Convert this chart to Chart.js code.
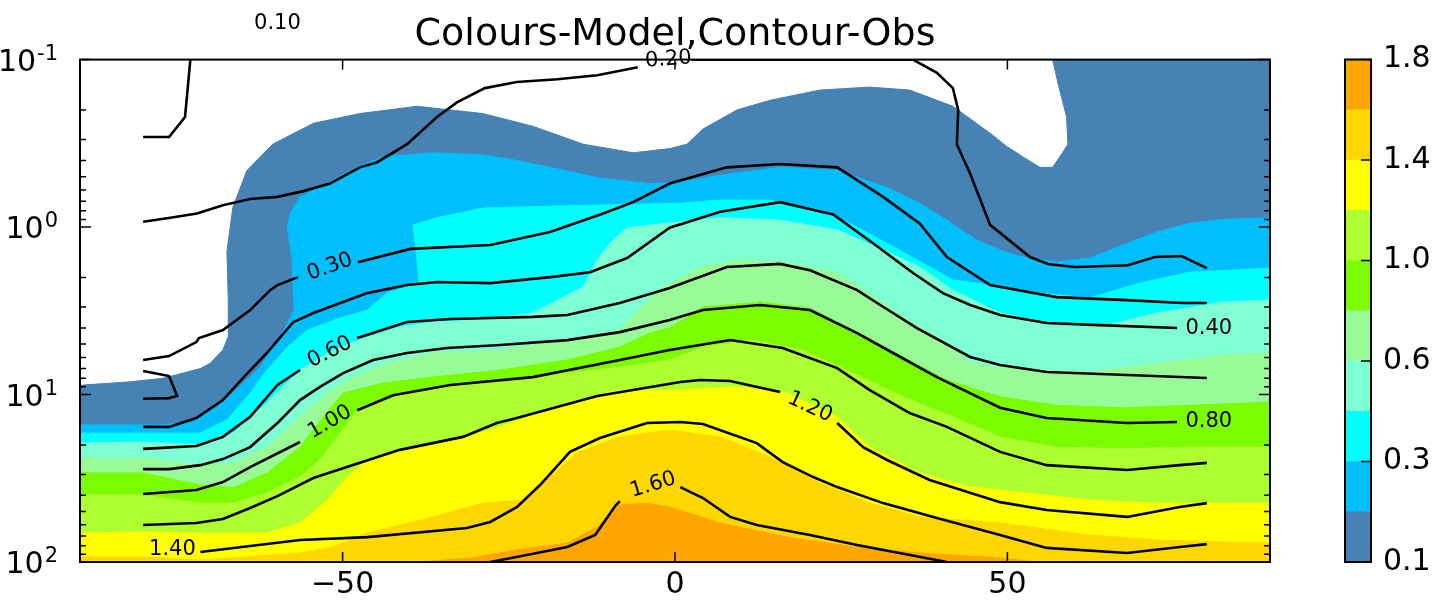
<!DOCTYPE html>
<html>
<head>
<meta charset="utf-8">
<script src="https://cdn.jsdelivr.net/npm/chart.js@4.4.0/dist/chart.umd.min.js"></script>
<style>
  html, body { margin: 0; padding: 0; background: #fff; }
  #wrap { position: relative; width: 1437px; height: 602px; }
  #main { position: absolute; left: 0; top: 0; }
  #cbar { position: absolute; left: 1300px; top: 0; }
</style>
</head>
<body>
<div id="wrap">
  <canvas id="main" width="1437" height="602"></canvas>
  <canvas id="cbar" width="137" height="602"></canvas>
</div>
<script>
// model field: for each level, the pressure (hPa) where the level is crossed, by latitude
var model010 = [[-89.5,8.8],[-82,8.4],[-77,8.0],[-71.4,7.0],[-69.9,6.5],[-68,5.4],[-67.2,4.5],[-67.2,2.7],[-67.4,1.4],[-66.5,0.76],[-64.4,0.46],[-60.5,0.32],[-54.4,0.24],[-47.4,0.21],[-38.8,0.19],[-28.9,0.21],[-21.4,0.25],[-13.8,0.32],[-6.3,0.36],[-0.8,0.34],[1.8,0.32],[4.2,0.26],[9.3,0.2],[14.3,0.175],[21.8,0.152],[29.3,0.146],[35.3,0.152],[41.8,0.19],[47.4,0.275],[49.9,0.33],[52.3,0.38],[54.9,0.44],[56.8,0.44],[58.3,0.36],[59.1,0.32],[58.9,0.22],[57.6,0.138],[56.8,0.1],[89.5,0.1]];
var model020 = [[-89.5,15.2],[-77.4,15.2],[-72.5,14.6],[-71.4,13.3],[-68.9,11.9],[-66.5,9.8],[-62.4,6.85],[-59.4,4.54],[-57.3,3.13],[-57.6,1.57],[-58.3,1.0],[-57.9,0.83],[-56.4,0.66],[-52.3,0.55],[-47.4,0.43],[-43.9,0.38],[-36.4,0.36],[-28.9,0.37],[-23.8,0.4],[-18.8,0.44],[-11.3,0.51],[-3.8,0.55],[0.8,0.54],[6.8,0.49],[15.8,0.44],[24.4,0.46],[31.9,0.58],[36.8,0.72],[40.9,0.91],[45.4,1.2],[48.9,1.37],[52.3,1.51],[57.4,1.62],[62.4,1.53],[67.4,1.28],[72.5,1.07],[77.4,0.95],[82.4,0.9],[89.5,0.88]];
var model030 = [[-89.5,17.0],[-80,17.0],[-71.4,17.0],[-67.4,14.2],[-63.9,9.8],[-61.4,7.14],[-58.3,5.2],[-55.3,4.12],[-50.4,3.49],[-46.3,3.13],[-43.3,2.48],[-38.5,2.16],[-38.8,1.57],[-39.4,0.97],[-35.8,0.88],[-28.9,0.77],[-18.8,0.75],[0.8,0.72],[6.8,0.69],[14.3,0.69],[21.8,0.79],[27.4,1.0],[31.9,1.25],[37.3,1.64],[41.8,2.07],[47.4,2.22],[54.9,2.48],[62.4,2.65],[69.9,2.16],[77.4,1.86],[89.5,1.76]];
var model040 = [[-89.5,19.5],[-80,19.2],[-71.4,20.0],[-66.5,17.0],[-61.4,11.2],[-56.4,7.14],[-51.4,5.42],[-46.3,4.54],[-41.4,3.95],[-36.4,3.69],[-28.9,3.59],[-21.4,3.26],[-13.8,2.28],[-11.7,1.57],[-9.8,1.25],[-7.2,1.01],[0.8,0.93],[6.8,0.88],[15.8,0.91],[24.4,1.04],[30.4,1.32],[36.8,1.73],[41.8,2.38],[48.9,3.26],[55.9,3.74],[65,3.85],[72.5,3.26],[82.4,2.8],[89.5,2.73]];
var model060 = [[-89.5,23.9],[-80,23.9],[-71.4,26.4],[-66.5,25.6],[-61.4,20.6],[-56.4,13.6],[-52.3,9.8],[-48.4,7.87],[-43.3,6.49],[-36.4,5.65],[-26.3,5.42],[-16.2,4.73],[-11.3,4.5],[-8.3,4.1],[-5,3.0],[-2,2.3],[0.8,2.0],[4.2,1.73],[9.3,1.57],[16.8,1.62],[24.4,1.88],[29.3,2.48],[34.3,3.44],[39.4,4.54],[44.4,6.4],[48.9,6.95],[62.4,7.34],[72.5,6.49],[82.4,5.81],[89.5,5.65]];
var model080 = [[-89.5,29.4],[-80,29.4],[-71.4,34.7],[-66.5,36.1],[-61.4,29.4],[-56.4,20.6],[-52.9,13.6],[-49.9,9.8],[-43.9,8.54],[-36.4,7.87],[-26.3,7.14],[-16.2,6.22],[-8.3,5.2],[-3.8,4.3],[-0.8,4.0],[4.2,3.0],[12.8,2.8],[20.3,3.05],[27.4,4.24],[34.3,5.97],[40.9,8.19],[48.9,10.3],[57.4,11.6],[67.4,12.0],[77.4,11.6],[89.5,11.1]];
var model100 = [[-89.5,39.8],[-80,39.8],[-71.4,44.5],[-66.5,44.5],[-61.4,38.7],[-56.4,31.1],[-53.4,24.6],[-50.4,17.0],[-47.4,11.9],[-41.4,9.8],[-31.3,8.54],[-21.4,7.87],[-8.3,6.85],[-0.8,6.22],[4.2,5.2],[11.7,4.73],[19.2,5.42],[26.8,7.45],[34.3,10.3],[41.8,13.6],[48.9,17.9],[57.4,20.6],[67.4,21.1],[77.4,20.6],[89.5,20.6]];
var model120 = [[-89.5,67.1],[-80,66.2],[-71.4,67.1],[-61.4,67.1],[-56.4,58.5],[-52.3,42.6],[-49.3,31.1],[-46.3,24.6],[-41.4,21.4],[-31.3,17.9],[-26.3,15.6],[-16.2,11.2],[-8.3,9.4],[-0.8,9.4],[9.3,9.0],[16.8,9.8],[24.4,13.6],[29.3,20.6],[36.8,29.4],[44.4,35.7],[48.9,37.2],[62.4,42.6],[72.5,44.5],[82.4,44.5],[89.5,44.5]];
var model140 = [[-89.5,93.3],[-80,93.3],[-71.4,97.3],[-56.4,88.3],[-51.4,81.3],[-46.3,67.1],[-36.4,53.8],[-28.9,44.5],[-22.3,42.6],[-18.8,31.1],[-14.7,22.3],[-8.3,17.9],[-0.8,16.3],[6.8,17.9],[14.3,23.6],[21.8,33.7],[29.3,44.5],[36.8,53.8],[48.9,58.5],[62.4,69.0],[72.5,73.9],[82.4,76.0],[89.5,77.1]];
var model160 = [[-38.3,100],[-30.8,94.7],[-23.8,84.7],[-16.2,77.1],[-11.7,61.8],[-8.3,45.7],[-4.5,44.5],[-0.8,47.0],[6.8,58.5],[16.8,71.0],[26.8,81.3],[36.8,88.3],[48.9,94.7],[54.9,100]];

var modelColors = ['#4682b4', '#00bfff', '#00ffff', '#7fffd4', '#98fb98', '#7cfc00', '#adff2f', '#ffff00', '#ffd700', '#ffa500'];

// observed contours (null = break where a label sits)
var obs010 = [[-80,0.29],[-76.1,0.29],[-73.7,0.22],[-72.9,0.1],[-72.6,0.07]];
var obs020 = [[-80,0.93],[-75.9,0.88],[-71.9,0.83],[-68,0.74],[-63.9,0.68],[-59.8,0.66],[-55.9,0.61],[-51.9,0.55],[-47.4,0.44],[-44.8,0.41],[-40.3,0.32],[-35.8,0.22],[-32.8,0.18],[-28.6,0.148],[-23.8,0.136],[-17.7,0.131],[-11.7,0.124],[-5.6,0.111],null,[2.6,0.1],[35.8,0.1],[39.4,0.12],[41.8,0.148],[42.6,0.2],[42.4,0.32],[44.4,0.48],[47.4,0.97],[53.4,1.51],[56.1,1.66],[60.2,1.73],[68.1,1.69],[72.2,1.51],[76.2,1.49],[80,1.76]];
var obs030 = [[-80,6.22],[-76.1,5.89],[-72,4.86],[-71.6,4.6],[-68,4.12],[-63.9,3.13],[-60.9,2.38],[-59.8,2.22],[-56.7,1.99],null,[-47.7,1.62],[-39.8,1.35],[-27.8,1.28],[-18.8,1.07],[-10.8,0.83],[-6.3,0.71],[-0.8,0.55],[7.8,0.44],[15.8,0.42],[24.4,0.44],[31.3,0.66],[36.8,0.95],[40.9,1.51],[47.4,2.22],[57.4,2.62],[68,2.73],[76.4,2.84],[80,2.84]];
var obs030b = [[-80,7.24],[-76.1,7.76],[-74.9,10.2],[-76.1,10.5],[-80,10.6]];
var obs040 = [[-80,15.6],[-76.1,15.6],[-72,13.8],[-68,10.8],[-65,7.97],[-61.4,5.65],[-57.4,3.69],[-54.4,3.26],[-46.3,2.48],[-40.3,2.22],[-35.8,2.13],[-27.8,2.16],[-18.8,1.99],[-12.8,1.86],[-7.2,1.53],[-0.8,1.01],[6.8,0.81],[15.8,0.71],[23.8,0.84],[29.8,1.25],[35.8,1.88],[40.3,2.48],[44.4,2.92],[48.9,3.35],[55.9,3.74],[63.9,3.85],[75.5,4.01]];
var obs060 = [[-80,21.1],[-72,20.3],[-68,17.9],[-63.9,13.6],[-59.8,8.77],[-56.4,7.14],null,[-47.8,4.6],[-40.3,3.69],[-33.8,3.54],[-21.4,3.44],[-16.2,3.35],[-8.3,2.84],[-0.8,2.31],[7.8,1.73],[15.8,1.66],[20.3,1.81],[27.4,2.38],[30.4,2.84],[36.4,4.01],[44.4,5.97],[48.9,6.67],[55.9,7.34],[68,7.65],[80,7.97]];
var obs080 = [[-80,27.9],[-76.1,27.9],[-71.4,26.4],[-68,24.3],[-63.9,20.6],[-59.8,14.8],[-56.4,10.8],[-53.4,9.0],[-49.9,7.45],[-45.4,6.22],[-40.3,5.65],[-34.3,5.27],[-26.3,5.06],[-16.2,4.73],[-8.3,4.24],[-0.8,3.59],[4.2,3.13],[12.8,2.92],[20.3,3.13],[27.4,4.3],[32.8,5.65],[39.4,7.87],[48.9,12.0],[55.9,13.8],[68,14.8],[75.5,14.6]];
var obs100 = [[-80,39.3],[-72,37.2],[-68,33.3],[-63.9,27.1],[-56.4,19.2],null,[-47.8,12.4],[-42.4,10.1],[-33.8,8.77],[-21.4,7.87],[-8.3,6.22],[-0.8,5.42],[8.3,4.73],[16.2,5.27],[24.4,6.95],[29.3,9.4],[35.3,12.9],[40.9,15.6],[48.9,22.0],[55.9,26.4],[68,28.2],[75.9,26.4],[80,25.6]];
var obs120 = [[-80,60.1],[-72,58.5],[-68,55.3],[-63.9,47.6],[-59.8,40.4],[-54.4,31.5],[-48.9,26.7],[-41.4,21.4],[-31.9,17.9],[-26.8,14.8],[-23.8,13.8],[-11.7,10.2],[0.8,8.42],[3.8,8.19],[8.3,8.3],[15.8,9.66],null,[24.4,14.8],[28.3,20.6],[31.9,24.6],[38.3,32.4],[48.9,43.9],[55.9,48.9],[68,53.8],[75.9,47.0],[80,44.5]];
var obs140 = [[-71.4,87.1],[-63.9,80.2],[-56.4,73.9],[-46.3,71.0],[-31.3,62.7],[-27.8,57.7],[-23.8,47.0],[-20.3,34.7],[-15.8,22.0],[-11.3,18.2],[-4.2,14.8],[0.8,14.6],[4.2,15.0],[12.3,19.5],[16.2,25.3],[20.8,31.1],[24.4,35.7],[31.3,44.5],[39.4,54.6],[48.9,69.0],[55.9,82.4],[68,88.3],[75.9,81.3],[80,78.2]];
var obs160 = [[-27.8,100],[-22.3,90.8],[-16.2,81.3],[-12,69.0],[-9,46.3],[-8.3,43.3],null,[0.8,35.7],[4.2,41.5],[8.3,53.8],[12.3,60.1],[20.3,69.0],[27.4,79.2],[40.9,100]];

// contour labels: text, latitude, pressure, angle
var obsLabels = [
    ['0.10', -59.8, 0.0605, 0],
    ['0.20', -1.0, 0.1, -4],
    ['0.30', -51.9, 1.73, -20],
    ['0.40', 80.3, 4.01, 0],
    ['0.60', -51.9, 5.58, -27],
    ['0.80', 80.3, 14.4, 0],
    ['1.00', -51.9, 14.6, -30],
    ['1.20', 20.3, 11.9, 25],
    ['1.40', -75.6, 84.7, 0],
    ['1.60', -3.3, 34.7, -17]
];

var xTicks = [-50, 0, 50];
var yTicks = [0.1, 1, 10, 100];
var yTickExp = ['-1', '0', '1', '2'];

var cbLevels = [0.1, 0.2, 0.3, 0.4, 0.6, 0.8, 1.0, 1.2, 1.4, 1.6, 1.8];
var cbTickIndex = [0, 2, 4, 6, 8, 10];

Chart.defaults.font.family = '"DejaVu Sans", sans-serif';
Chart.defaults.color = '#000';

function toXY(p) {
    return {x: p[0], y: p[1]};
}

// split a contour at its label gaps
function pieces(arr) {
    var out = [[]];
    arr.forEach(function (p) {
        if (p) {
            out[out.length - 1].push(toXY(p));
        } else {
            out.push([]);
        }
    });
    return out;
}

var bands = [model010, model020, model030, model040, model060, model080, model100, model120, model140, model160];
var contours = [obs010, obs020, obs030, obs030b, obs040, obs060, obs080, obs100, obs120, obs140, obs160];

var datasets = [];
bands.forEach(function (b, i) {
    datasets.push({
        data: b.map(toXY),
        fill: {value: 100},
        backgroundColor: modelColors[i],
        borderColor: modelColors[i],
        borderWidth: 1,
        pointRadius: 0,
        order: 100 - i
    });
});
contours.forEach(function (c) {
    pieces(c).forEach(function (seg) {
        datasets.push({
            data: seg,
            fill: false,
            borderColor: '#000',
            borderWidth: 2.6,
            pointRadius: 0,
            order: 0
        });
    });
});

var contourLabels = {
    id: 'contourLabels',
    afterDatasetsDraw: function (chart) {
        var ctx = chart.ctx;
        var xs = chart.scales.x, ys = chart.scales.y;
        ctx.save();
        ctx.fillStyle = '#000';
        ctx.font = '21px "DejaVu Sans"';
        ctx.textAlign = 'center';
        ctx.textBaseline = 'middle';
        obsLabels.forEach(function (l) {
            ctx.save();
            ctx.translate(xs.getPixelForValue(l[1]), ys.getPixelForValue(l[2]));
            ctx.rotate(l[3] * Math.PI / 180);
            ctx.fillText(l[0], 0, 0);
            ctx.restore();
        });
        ctx.restore();
    }
};

// frame with inward ticks on all four sides, and 10^n labels on the pressure axis
var axisFrame = {
    id: 'axisFrame',
    afterDraw: function (chart) {
        var ctx = chart.ctx, a = chart.chartArea;
        var xs = chart.scales.x, ys = chart.scales.y;
        ctx.save();
        ctx.strokeStyle = '#000';
        ctx.lineWidth = 1.5;
        ctx.beginPath();
        xTicks.forEach(function (v) {
            var px = xs.getPixelForValue(v);
            ctx.moveTo(px, a.bottom); ctx.lineTo(px, a.bottom - 10);
            ctx.moveTo(px, a.top); ctx.lineTo(px, a.top + 10);
        });
        yTicks.forEach(function (d, i) {
            for (var k = 1; k <= 9; k++) {
                if (i === yTicks.length - 1 && k > 1) break;
                var py = ys.getPixelForValue(d * k);
                var len = k === 1 ? 11 : 6;
                ctx.moveTo(a.left, py); ctx.lineTo(a.left + len, py);
                ctx.moveTo(a.right, py); ctx.lineTo(a.right - len, py);
            }
        });
        ctx.stroke();
        ctx.lineWidth = 2;
        ctx.strokeRect(a.left, a.top, a.right - a.left, a.bottom - a.top);

        ctx.fillStyle = '#000';
        ctx.textAlign = 'right';
        ctx.textBaseline = 'alphabetic';
        var xr = a.left - 22;
        yTicks.forEach(function (v, i) {
            var py = ys.getPixelForValue(v);
            ctx.font = '21px "DejaVu Sans"';
            var w = ctx.measureText(yTickExp[i]).width;
            ctx.fillText(yTickExp[i], xr, py);
            ctx.font = '30px "DejaVu Sans"';
            ctx.fillText('10', xr - w - 1, py + 11);
        });
        ctx.restore();
    }
};

new Chart(document.getElementById('main'), {
    type: 'line',
    data: {datasets: datasets},
    options: {
        responsive: false,
        animation: false,
        events: [],
        layout: {padding: {left: 0, right: 167, top: 0, bottom: 0}},
        elements: {line: {tension: 0}},
        plugins: {
            legend: {display: false},
            tooltip: {enabled: false},
            title: {
                display: true,
                text: 'Colours-Model,Contour-Obs',
                fullSize: false,
                color: '#000',
                font: {size: 38, weight: 'normal'},
                padding: {top: 12, bottom: 2}
            }
        },
        scales: {
            x: {
                type: 'linear',
                min: -89.5,
                max: 89.5,
                grid: {display: false, drawTicks: false},
                border: {display: false},
                afterBuildTicks: function (s) { s.ticks = xTicks.map(function (v) { return {value: v}; }); },
                afterFit: function (s) { s.height = 40; },
                ticks: {
                    autoSkip: false,
                    maxRotation: 0,
                    padding: 5,
                    font: {size: 30},
                    callback: function (v) { return v < 0 ? '\u2212' + Math.abs(v) : String(v); }
                }
            },
            y: {
                type: 'logarithmic',
                min: 0.1,
                max: 100,
                reverse: true,
                grid: {display: false, drawTicks: false},
                border: {display: false},
                afterBuildTicks: function (s) { s.ticks = yTicks.map(function (v) { return {value: v}; }); },
                afterFit: function (s) { s.width = 80; },
                ticks: {display: false}
            }
        }
    },
    plugins: [contourLabels, axisFrame]
});

// colour bar
var cbFrame = {
    id: 'cbFrame',
    afterDraw: function (chart) {
        var ctx = chart.ctx, a = chart.chartArea, ys = chart.scales.y;
        ctx.save();
        ctx.strokeStyle = '#000';
        ctx.lineWidth = 1.5;
        ctx.beginPath();
        cbTickIndex.forEach(function (v) {
            var py = ys.getPixelForValue(v);
            ctx.moveTo(a.right, py); ctx.lineTo(a.right - 10, py);
        });
        ctx.stroke();
        ctx.lineWidth = 2;
        ctx.strokeRect(a.left, a.top, a.right - a.left, a.bottom - a.top);
        ctx.restore();
    }
};

new Chart(document.getElementById('cbar'), {
    type: 'bar',
    data: {
        labels: [''],
        datasets: modelColors.map(function (c) {
            return {data: [1], backgroundColor: c, borderWidth: 0, stack: 'cb', barPercentage: 1, categoryPercentage: 1};
        })
    },
    options: {
        responsive: false,
        animation: false,
        events: [],
        layout: {padding: {left: 45, top: 59.5, bottom: 40, right: 0}},
        plugins: {legend: {display: false}, tooltip: {enabled: false}},
        scales: {
            x: {display: false, stacked: true},
            y: {
                stacked: true,
                min: 0,
                max: 10,
                position: 'right',
                grid: {display: false, drawTicks: false},
                border: {display: false},
                afterBuildTicks: function (s) { s.ticks = cbTickIndex.map(function (v) { return {value: v}; }); },
                afterFit: function (s) { s.width = 66; },
                ticks: {
                    autoSkip: false,
                    padding: 12,
                    font: {size: 30},
                    callback: function (v) { return cbLevels[v].toFixed(1); }
                }
            }
        }
    },
    plugins: [cbFrame]
});
</script>
</body>
</html>
